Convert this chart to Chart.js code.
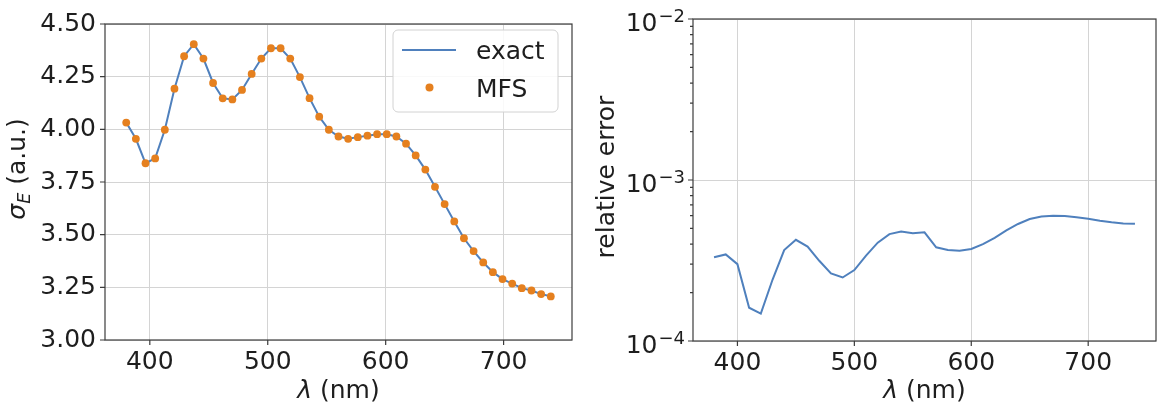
<!DOCTYPE html>
<html><head><meta charset="utf-8">
<script src="https://cdn.jsdelivr.net/npm/chart.js@4.4.1/dist/chart.umd.min.js"></script>
<style>
html,body{margin:0;padding:0;background:#fff;}
#wrap{position:relative;width:1163px;height:409px;overflow:hidden;background:#fff;}
canvas{position:absolute;top:0;}
</style></head><body>
<div id="wrap">
<canvas id="left" width="590" height="409" style="left:0"></canvas>
<canvas id="right" width="573" height="409" style="left:590px"></canvas>
</div>
<script>
// ---------- data ----------
const mfsWavelengths = [380, 388.18, 396.36, 404.55, 412.73, 420.91, 429.09, 437.27, 445.45, 453.64,
  461.82, 470, 478.18, 486.36, 494.55, 502.73, 510.91, 519.09, 527.27, 535.45,
  543.64, 551.82, 560, 568.18, 576.36, 584.55, 592.73, 600.91, 609.09, 617.27,
  625.45, 633.64, 641.82, 650, 658.18, 666.36, 674.55, 682.73, 690.91, 699.09,
  707.27, 715.45, 723.64, 731.82, 740];
const mfsValues = [4.032, 3.955, 3.839, 3.862, 3.998, 4.193, 4.347, 4.404, 4.336, 4.220,
  4.147, 4.142, 4.187, 4.263, 4.336, 4.385, 4.385, 4.336, 4.248, 4.148,
  4.060, 3.998, 3.966, 3.955, 3.963, 3.970, 3.977, 3.977, 3.966, 3.932,
  3.876, 3.809, 3.727, 3.645, 3.563, 3.483, 3.422, 3.368, 3.322, 3.289,
  3.268, 3.246, 3.235, 3.218, 3.207];
const exactValues = [4.032, 3.955, 3.839, 3.862, 3.998, 4.193, 4.347, 4.404, 4.336, 4.220,
  4.147, 4.142, 4.187, 4.263, 4.336, 4.385, 4.385, 4.336, 4.248, 4.148,
  4.060, 3.998, 3.966, 3.955, 3.963, 3.970, 3.977, 3.977, 3.966, 3.932,
  3.876, 3.809, 3.727, 3.645, 3.563, 3.483, 3.422, 3.368, 3.322, 3.289,
  3.268, 3.246, 3.235, 3.218, 3.207];
const errWavelengths = [380, 390, 400, 410, 420, 430, 440, 450, 460, 470, 480, 490, 500, 510, 520,
  530, 540, 550, 560, 570, 580, 590, 600, 610, 620, 630, 640, 650, 660, 670, 680, 690, 700,
  710, 720, 730, 740];
const errValues = [3.31e-4, 3.45e-4, 3.0e-4, 1.61e-4, 1.48e-4, 2.40e-4, 3.67e-4, 4.25e-4, 3.86e-4,
  3.15e-4, 2.63e-4, 2.48e-4, 2.76e-4, 3.39e-4, 4.08e-4, 4.61e-4, 4.79e-4, 4.67e-4, 4.73e-4,
  3.82e-4, 3.68e-4, 3.63e-4, 3.73e-4, 4.0e-4, 4.37e-4, 4.86e-4, 5.33e-4, 5.72e-4, 5.93e-4,
  6.0e-4, 5.97e-4, 5.86e-4, 5.74e-4, 5.58e-4, 5.46e-4, 5.37e-4, 5.34e-4];
const xTickValues = [400, 500, 600, 700];
const leftYTicks = [3.00, 3.25, 3.50, 3.75, 4.00, 4.25, 4.50];
const rightYMajor = [1e-4, 1e-3, 1e-2];
const rightYMinor = [2e-4, 3e-4, 4e-4, 5e-4, 6e-4, 7e-4, 8e-4, 9e-4,
  2e-3, 3e-3, 4e-3, 5e-3, 6e-3, 7e-3, 8e-3, 9e-3];
const rightYExponents = ['\u22124', '\u22123', '\u22122'];

// ---------- style ----------
const FONT = '"DejaVu Sans", sans-serif';
const BLUE = '#4f80bd';
const ORANGE = '#e5801f';
const GRID = '#d4d4d4';
const SPINE = '#3c3c3c';
const TEXT = '#1e1e1e';

function drawRuns(ctx, runs, x0, y0) {
  // runs: {t, size, italic, dy}; baseline at y0, start at x0
  let x = x0;
  runs.forEach(r => {
    ctx.font = (r.italic ? 'italic ' : '') + r.size + 'px ' + FONT;
    ctx.fillText(r.t, x, y0 + (r.dy || 0));
    x += ctx.measureText(r.t).width;
  });
}
function runsWidth(ctx, runs) {
  let w = 0;
  runs.forEach(r => {
    ctx.font = (r.italic ? 'italic ' : '') + r.size + 'px ' + FONT;
    w += ctx.measureText(r.t).width;
  });
  return w;
}

const framePlugin = {
  id: 'frame',
  afterDraw(chart, args, opts) {
    const ctx = chart.ctx, a = chart.chartArea;
    const xs = chart.scales.x, ys = chart.scales.y;
    ctx.save();
    ctx.strokeStyle = SPINE;
    ctx.lineWidth = 1.2;
    ctx.beginPath();
    xs.ticks.forEach(t => {
      const px = xs.getPixelForValue(t.value);
      ctx.moveTo(px, a.bottom); ctx.lineTo(px, a.bottom + 5);
    });
    ys.ticks.forEach(t => {
      const py = ys.getPixelForValue(t.value);
      const len = (opts.isMinor && opts.isMinor(t.value)) ? 3 : 5;
      ctx.moveTo(a.left - len, py); ctx.lineTo(a.left, py);
    });
    ctx.stroke();
    ctx.strokeRect(a.left, a.top, a.right - a.left, a.bottom - a.top);

    ctx.fillStyle = TEXT;
    ctx.textAlign = 'left';
    ctx.textBaseline = 'alphabetic';
    // x title
    const xr = opts.xTitle;
    const xw = runsWidth(ctx, xr);
    drawRuns(ctx, xr, (a.left + a.right) / 2 - xw / 2, opts.xTitleBaseline);
    // y title (rotated)
    const yr = opts.yTitle;
    const yw = runsWidth(ctx, yr);
    ctx.save();
    ctx.translate(opts.yTitleBaseline, opts.yTitleCenter);
    ctx.rotate(-Math.PI / 2);
    drawRuns(ctx, yr, -yw / 2, 0);
    ctx.restore();

    // log labels
    if (opts.logLabels) {
      rightYMajor.forEach((v, i) => {
        const py = ys.getPixelForValue(v);
        const right = a.left - 8;
        ctx.textAlign = 'right';
        ctx.font = '18px ' + FONT;
        const exp = rightYExponents[i];
        ctx.fillText(exp, right, py + 2.5);
        const ew = ctx.measureText(exp).width;
        ctx.font = '25px ' + FONT;
        ctx.fillText('10', right - ew - 1, py + 12);
      });
    }

    // legend
    if (opts.legend) {
      const L = opts.legend;
      ctx.textAlign = 'left';
      ctx.fillStyle = 'rgba(255,255,255,0.85)';
      ctx.strokeStyle = '#d2d2d2';
      ctx.lineWidth = 1;
      ctx.beginPath();
      ctx.roundRect(L.x, L.y, L.w, L.h, 5);
      ctx.fill(); ctx.stroke();
      const ds = chart.data.datasets;
      // exact line
      ctx.strokeStyle = BLUE; ctx.lineWidth = 2;
      ctx.beginPath(); ctx.moveTo(L.x + 9, L.y + 20); ctx.lineTo(L.x + 63, L.y + 20); ctx.stroke();
      ctx.fillStyle = TEXT;
      ctx.font = '25px ' + FONT;
      ctx.fillText(ds[1].label, L.x + 83, L.y + 29);
      // MFS dot
      ctx.fillStyle = ORANGE;
      ctx.beginPath(); ctx.arc(L.x + 36.5, L.y + 57.5, 4, 0, Math.PI * 2); ctx.fill();
      ctx.fillStyle = TEXT;
      ctx.fillText(ds[0].label, L.x + 83, L.y + 66.5);
    }
    ctx.restore();
  }
};

const tickFont = { family: FONT, size: 25 };

function xScale(height) {
  return {
    type: 'linear', min: 362, max: 758,
    afterBuildTicks: s => { s.ticks = xTickValues.map(v => ({ value: v })); },
    afterFit: s => { s.height = height; },
    ticks: { font: tickFont, color: TEXT, padding: 7, maxRotation: 0, autoSkip: false,
             callback: v => String(v) },
    grid: { color: GRID, lineWidth: 1, drawTicks: false },
    border: { display: false }
  };
}

// ---------- left chart ----------
new Chart(document.getElementById('left'), {
  type: 'line',
  data: {
    datasets: [
      {
        label: 'MFS',
        data: mfsWavelengths.map((x, i) => ({ x: x, y: mfsValues[i] })),
        showLine: false,
        pointRadius: 3.9,
        pointBackgroundColor: ORANGE,
        pointBorderWidth: 0,
        order: 0
      },
      {
        label: 'exact',
        data: mfsWavelengths.map((x, i) => ({ x: x, y: exactValues[i] })),
        borderColor: BLUE,
        borderWidth: 2,
        pointRadius: 0,
        tension: 0,
        order: 1
      }
    ]
  },
  options: {
    responsive: false, animation: false,
    layout: { padding: { left: 0, top: 17, right: 18, bottom: 0 } },
    scales: {
      x: xScale(69),
      y: {
        type: 'linear', min: 3.0, max: 4.5,
        afterBuildTicks: s => { s.ticks = leftYTicks.map(v => ({ value: v })); },
        afterFit: s => { s.width = 105; },
        ticks: { font: tickFont, color: TEXT, padding: 9, autoSkip: false,
                 callback: v => Number(v).toFixed(2) },
        grid: { color: GRID, lineWidth: 1, drawTicks: false },
        border: { display: false }
      }
    },
    plugins: {
      legend: { display: false },
      tooltip: { enabled: false },
      frame: {
        xTitle: [{ t: 'λ', size: 25, italic: true }, { t: ' (nm)', size: 25 }],
        xTitleBaseline: 398,
        yTitle: [{ t: 'σ', size: 25, italic: true }, { t: 'E', size: 17.5, italic: true, dy: 5 },
                 { t: ' (a.u.)', size: 25 }],
        yTitleBaseline: 25,
        yTitleCenter: 169,
        legend: { x: 393, y: 30, w: 165, h: 82 }
      }
    }
  },
  plugins: [framePlugin]
});

// ---------- right chart ----------
const isMajorLog = v => Math.abs(Math.log10(v) - Math.round(Math.log10(v))) < 1e-9;
new Chart(document.getElementById('right'), {
  type: 'line',
  data: {
    datasets: [{
      label: 'relative error',
      data: errWavelengths.map((x, i) => ({ x: x, y: errValues[i] })),
      borderColor: BLUE,
      borderWidth: 2,
      pointRadius: 0,
      tension: 0
    }]
  },
  options: {
    responsive: false, animation: false,
    layout: { padding: { left: 0, top: 19, right: 7, bottom: 0 } },
    scales: {
      x: xScale(68),
      y: {
        type: 'logarithmic', min: 1e-4, max: 1e-2,
        afterBuildTicks: s => {
          s.ticks = rightYMajor.concat(rightYMinor).sort((a, b) => a - b).map(v => ({ value: v }));
        },
        afterFit: s => { s.width = 103; },
        ticks: { font: tickFont, color: TEXT, autoSkip: false, callback: () => '' },
        grid: {
          color: c => (c.tick && isMajorLog(c.tick.value)) ? GRID : 'rgba(0,0,0,0)',
          lineWidth: 1, drawTicks: false
        },
        border: { display: false }
      }
    },
    plugins: {
      legend: { display: false },
      tooltip: { enabled: false },
      frame: {
        xTitle: [{ t: 'λ', size: 25, italic: true }, { t: ' (nm)', size: 25 }],
        xTitleBaseline: 398,
        yTitle: [{ t: 'relative error', size: 25 }],
        yTitleBaseline: 23.5,
        yTitleCenter: 177,
        logLabels: true,
        isMinor: v => !isMajorLog(v)
      }
    }
  },
  plugins: [framePlugin]
});
</script>
</body></html>
